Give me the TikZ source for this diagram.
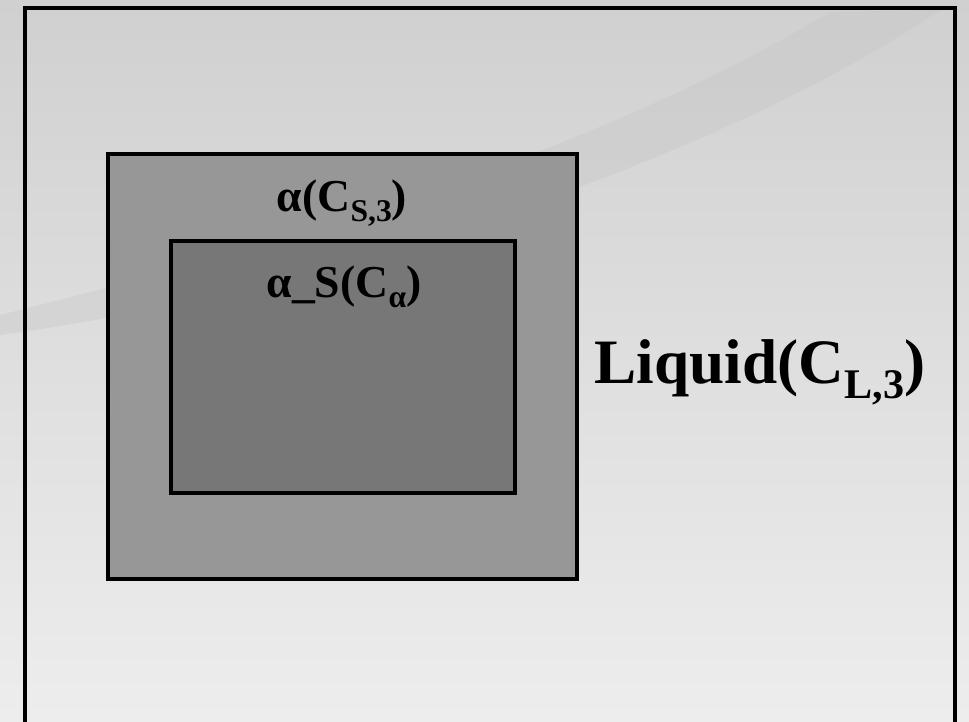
\documentclass[tikz,border=0pt]{standalone}
\usepackage{fontspec}
\setmainfont{Liberation Serif}
\usetikzlibrary{positioning}
\definecolor{paneltop}{HTML}{D0D0D0}
\definecolor{panelbottom}{HTML}{EDEDED}
\definecolor{swoosh}{HTML}{C2C2C2}
\definecolor{solidgray}{HTML}{979797}
\definecolor{alphagray}{HTML}{777777}

% lowered subscript: size, text
\newcommand{\phsub}[2]{\raisebox{-0.24em}{\fontsize{#1}{#1}\selectfont #2}}

\begin{document}
\begin{tikzpicture}[
  x=0.02cm,
  y=-0.02cm,
  phasebox/.style={
    draw=black,
    line width=2.2pt,
    inner sep=0pt
  },
  phaselabel/.style={
    anchor=base,
    inner sep=0pt,
    font=\fontsize{26}{30}\selectfont\bfseries
  },
  liquidlabel/.style={
    anchor=base,
    inner sep=0pt,
    font=\fontsize{36}{42}\selectfont\bfseries
  }
]

\clip (0,0) rectangle (969,721);
\useasboundingbox (0,0) rectangle (969,721);

% background with the faint swoosh
\shade[top color=paneltop,bottom color=panelbottom] (0,0) rectangle (969,721);
\fill[swoosh,opacity=0.3]
  (0,315) .. controls (300,240) and (600,150) .. (830,12)
  -- (940,10) .. controls (720,160) and (320,292) .. (0,335) -- cycle;

\node[phasebox,minimum width=18.6cm,minimum height=14.64cm] (panel) at (490,374) {};

\node[phasebox,fill=solidgray,minimum width=9.38cm,minimum height=8.5cm]
  (solid) at (342.5,366.5) {};

\node[phasebox,fill=alphagray,minimum width=6.88cm,minimum height=5.04cm]
  (alpha) at (343,367) {};

\node[phaselabel] (solidname) at (342,211)
  {α(C\phsub{18}{S,3})};

\node[phaselabel] (alphaname) at (344,297)
  {α\_S(C\phsub{18}{α})};

\node[liquidlabel] (liquidname) at (760,383)
  {Liquid(C\phsub{24}{L,3})};

\end{tikzpicture}
\end{document}
